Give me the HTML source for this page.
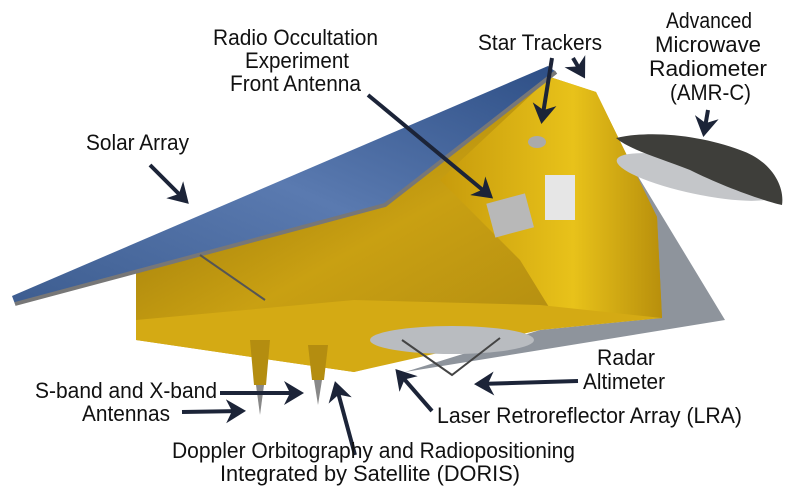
<!DOCTYPE html>
<html><head><meta charset="utf-8"><style>
html,body{margin:0;padding:0;background:#fff;}
svg{display:block;}
text{font-family:"Liberation Sans",sans-serif;font-size:22px;fill:#111;}
</style></head><body>
<svg width="792" height="504" viewBox="0 0 792 504" xmlns="http://www.w3.org/2000/svg">
<defs>
<linearGradient id="g1" x1="0" y1="0" x2="1" y2="1"><stop offset="0" stop-color="#8a6a08"/><stop offset="0.5" stop-color="#c9a012"/><stop offset="1" stop-color="#a88410"/></linearGradient>
<linearGradient id="g2" x1="0" y1="0" x2="1" y2="0"><stop offset="0" stop-color="#c79b0c"/><stop offset="0.6" stop-color="#e8c21a"/><stop offset="1" stop-color="#b88f0c"/></linearGradient>
<linearGradient id="sol" x1="0" y1="1" x2="1" y2="0"><stop offset="0" stop-color="#3d5d90"/><stop offset="0.5" stop-color="#5a7ab0"/><stop offset="1" stop-color="#2e4f86"/></linearGradient>
<marker id="ah" markerWidth="6" markerHeight="6" refX="4" refY="3" orient="auto" markerUnits="strokeWidth"><path d="M0,0 L5,3 L0,6 L1.5,3 Z" fill="#1c2438"/></marker>
</defs>
<polygon points="590,97 725,320 405,372 540,330 660,318" fill="#8e949c"/>
<polygon points="136,267 385,205 550,77 596,92 657,217 662,318 540,325 354,372 136,340" fill="url(#g1)"/>
<polygon points="440,180 550,77 596,92 657,217 662,318 560,325 520,260" fill="url(#g2)"/>
<polygon points="136,320 354,300 540,305 662,318 540,330 354,372 136,340" fill="#d4aa14"/>
<rect x="490" y="198" width="40" height="35" fill="#b8b8b8" transform="rotate(-15 510 215)"/>
<rect x="545" y="175" width="30" height="45" fill="#e6e6e6"/>
<ellipse cx="537" cy="142" rx="9" ry="6" fill="#aaa"/>
<ellipse cx="452" cy="340" rx="82" ry="14" fill="#b9bcc0"/>
<path d="M402,340 L452,375 L500,338" stroke="#444" stroke-width="2" fill="none"/>
<polygon points="250,340 270,340 266,385 254,385" fill="#b48d10"/>
<polygon points="308,345 328,345 324,380 312,380" fill="#b48d10"/>
<polygon points="256,385 264,385 260,415" fill="#888"/>
<polygon points="314,380 322,380 318,405" fill="#888"/>
<ellipse cx="697" cy="177" rx="82" ry="17" fill="#c4c6c9" transform="rotate(12 697 177)"/>
<path d="M616,138 C650,130 700,135 740,150 C770,160 785,185 782,205 C760,200 720,185 690,170 C660,158 630,150 616,138 Z" fill="#3e3e3a"/>
<polygon points="12,296 548,66 556,72 385,205 15,304" fill="url(#sol)"/>
<polyline points="15,304 385,205 556,72" stroke="#777" stroke-width="4" fill="none"/>
<line x1="200" y1="255" x2="265" y2="300" stroke="#555" stroke-width="2"/>
<g stroke="#1c2438" stroke-width="4" fill="none" marker-end="url(#ah)">
<line x1="150" y1="165" x2="186" y2="201"/>
<line x1="368" y1="95" x2="490" y2="196"/>
<line x1="552" y1="58" x2="542" y2="120"/>
<line x1="573" y1="58" x2="583" y2="75"/>
<line x1="708" y1="110" x2="704" y2="133"/>
<line x1="578" y1="381" x2="478" y2="384"/>
<line x1="220" y1="393" x2="300" y2="393"/>
<line x1="182" y1="412" x2="242" y2="411"/>
<line x1="355" y1="455" x2="336" y2="385"/>
<line x1="432" y1="411" x2="398" y2="372"/>
</g>
<g lengthAdjust="spacingAndGlyphs">
<text x="213" y="45" textLength="165" lengthAdjust="spacingAndGlyphs">Radio Occultation</text>
<text x="245" y="68" textLength="104" lengthAdjust="spacingAndGlyphs">Experiment</text>
<text x="230" y="91" textLength="131" lengthAdjust="spacingAndGlyphs">Front Antenna</text>
<text x="478" y="50" textLength="124" lengthAdjust="spacingAndGlyphs">Star Trackers</text>
<text x="666" y="28" textLength="86" lengthAdjust="spacingAndGlyphs">Advanced</text>
<text x="655" y="52" textLength="106" lengthAdjust="spacingAndGlyphs">Microwave</text>
<text x="649" y="76" textLength="118" lengthAdjust="spacingAndGlyphs">Radiometer</text>
<text x="670" y="100" textLength="81" lengthAdjust="spacingAndGlyphs">(AMR-C)</text>
<text x="86" y="150" textLength="103" lengthAdjust="spacingAndGlyphs">Solar Array</text>
<text x="597" y="365" textLength="58" lengthAdjust="spacingAndGlyphs">Radar</text>
<text x="583" y="389" textLength="82" lengthAdjust="spacingAndGlyphs">Altimeter</text>
<text x="35" y="398" textLength="182" lengthAdjust="spacingAndGlyphs">S-band and X-band</text>
<text x="82" y="421" textLength="88" lengthAdjust="spacingAndGlyphs">Antennas</text>
<text x="437" y="423" textLength="305" lengthAdjust="spacingAndGlyphs">Laser Retroreflector Array (LRA)</text>
<text x="172" y="458" textLength="403" lengthAdjust="spacingAndGlyphs">Doppler Orbitography and Radiopositioning</text>
<text x="220" y="481" textLength="300" lengthAdjust="spacingAndGlyphs">Integrated by Satellite (DORIS)</text>
</g>
</svg>
</body></html>
